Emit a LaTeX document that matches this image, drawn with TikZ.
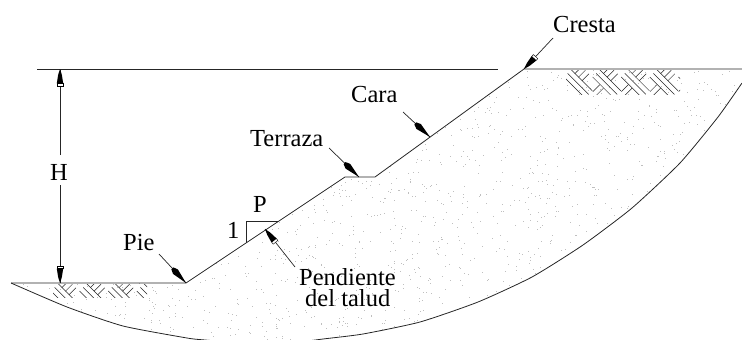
\documentclass[tikz,border=0pt]{standalone}
\usepackage{fontspec}
\setmainfont{Liberation Serif}
\usetikzlibrary{calc}
\tikzset{
  lbl/.style={anchor=base west,inner sep=0pt,font=\fontsize{24.5}{24.5}\selectfont},
  ln/.style={line width=0.8pt,black!85},
  callout/.style={line width=0.7pt,black!85},
  hatchln/.style={line width=0.5pt,black!85},
}
% solid long head: from, tip
\newcommand{\headsolid}[2]{%
  \coordinate (hw) at ($(#2)!15.5pt!(#1)$);
  \coordinate (hb) at ($(#2)!20pt!(#1)$);
  \fill[black] (#2) -- ($(hw)!3.3pt!90:(#1)$) -- ($(hb)!1.4pt!90:(#1)$) -- ($(hb)!1.4pt!-90:(#1)$) -- ($(hw)!3.3pt!-90:(#1)$) -- cycle;}
% head with open tail: from, tip
\newcommand{\headopen}[2]{%
  \coordinate (hm) at ($(#2)!6pt!(#1)$);
  \coordinate (hw) at ($(#2)!14.5pt!(#1)$);
  \coordinate (hb) at ($(#2)!17pt!(#1)$);
  \filldraw[fill=white,draw=black,line width=0.4pt] ($(hw)!3pt!90:(#1)$) -- ($(hb)!3pt!90:(#1)$) -- ($(hb)!3pt!-90:(#1)$) -- ($(hw)!3pt!-90:(#1)$) -- cycle;
  \fill[black] (#2) -- ($(hm)!1.9pt!90:(#1)$) -- ($(hw)!3.2pt!90:(#1)$) -- ($(hw)!3.2pt!-90:(#1)$) -- ($(hm)!1.9pt!-90:(#1)$) -- cycle;}
\newcommand{\hatchpatch}[5]{%
  \begin{scope}
    \clip (#1,#2) rectangle (#3,#4);
    \foreach \k in {0,...,#5}{
      \pgfmathsetmacro\xz{#1-2+28.6*\k}
      \foreach \i in {0,1,2}{
        \draw[hatchln] ({\xz+3.6*\i},{#2+7-3.6*\i}) -- ++(21,21);
      }
      \foreach \j in {0,1,2,5,6}{
        \draw[hatchln] ({\xz+10.8+3.6*\j},{#2+3.6+3.6*\j}) -- ++(7,-7);
      }
    }
  \end{scope}}
\begin{document}
\begin{tikzpicture}[x=1pt,y=-1pt]
\useasboundingbox (0,0) rectangle (742,340);
% surface points
\coordinate (gl) at (11,283);
\coordinate (toe) at (186,283);
\coordinate (t1) at (345,177);
\coordinate (t2) at (375,177);
\coordinate (crest) at (524,69);
\coordinate (tl) at (37,69);
\coordinate (tm) at (498,69);
\coordinate (tr) at (742,69);
\coordinate (slopeB) at (246,243);
\coordinate (triC) at (246,221);
\coordinate (triR) at (278,221);
% stipple
\begin{scope}
  \clip (gl) -- (toe) -- (t1) -- (t2) -- (crest) -- (tr) -- (742,83) -- (718,117) -- (680,163) -- (632,208) -- (583,245) -- (532,277) -- (478,302) -- (420,322) -- (363,334) -- (323,339) -- (265,344) -- (205,340) -- (187,338) -- (123,326) -- (67,307) -- cycle;
  \pgfmathsetseed{7}
  \foreach \i in {1,...,2200}{
    \pgfmathsetmacro\xx{11+731*rnd}
    \pgfmathsetmacro\yy{69+275*rnd}
    \fill[black!25] (\xx,\yy) rectangle ++(0.7,0.7);
  }
\end{scope}
% ground
\draw[ln] (tl) -- (tm);
\draw[ln] (gl) -- (toe) -- (t1) -- (t2) -- (crest) -- (tr);
\draw[ln] plot[smooth,tension=0.35] coordinates {(11,283) (67,307) (123,326) (187,338) (205,340) (265,345)};
\draw[ln] plot[smooth,tension=0.35] coordinates {(300,342) (323,339) (363,334) (420,322) (478,302) (532,277) (583,245) (632,208) (680,163) (718,117) (742,83)};
% hatch
\hatchpatch{566}{70}{680}{94}{4}
\hatchpatch{53}{284}{147}{297}{3}
% slope triangle
\draw[ln] (slopeB) -- (triC) -- (triR);
% labels
\node[lbl] (cresta) at (553,32) {Cresta};
\node[lbl] (cara) at (351,102) {Cara};
\node[lbl] (terraza) at (250,146) {Terraza};
\node[lbl] (pie) at (123,250) {Pie};
\node[lbl] (p) at (253,212) {P};
\node[lbl] (uno) at (227,238) {1};
\node[lbl] (h) at (50,180) {H};
\node[lbl] (pend) at (299,285) {Pendiente};
\node[lbl] (talud) at (305,306) {del talud};
% callouts
\coordinate (a1) at (553,38);
\coordinate (a2) at (403,112);
\coordinate (a3) at (329,148);
\coordinate (a4) at (159,254);
\coordinate (a5) at (295,267);
\coordinate (caraTip) at (430,137);
\coordinate (terrTip) at (359,177);
\coordinate (penTip) at (265,229);
\coordinate (hTop) at (60,69);
\coordinate (hBot) at (60,283);
\coordinate (hA) at (60,155);
\coordinate (hB) at (60,185);
\draw[callout] (a1) -- (crest);
\draw[callout] (a2) -- (caraTip);
\draw[callout] (a3) -- (terrTip);
\draw[callout] (a4) -- (toe);
\draw[callout] (a5) -- (penTip);
\draw[callout] (hA) -- (hTop);
\draw[callout] (hB) -- (hBot);
\headopen{a1}{crest}
\headsolid{a2}{caraTip}
\headsolid{a3}{terrTip}
\headsolid{a4}{toe}
\headopen{a5}{penTip}
\headopen{hA}{hTop}
\headopen{hB}{hBot}
\end{tikzpicture}
\end{document}
